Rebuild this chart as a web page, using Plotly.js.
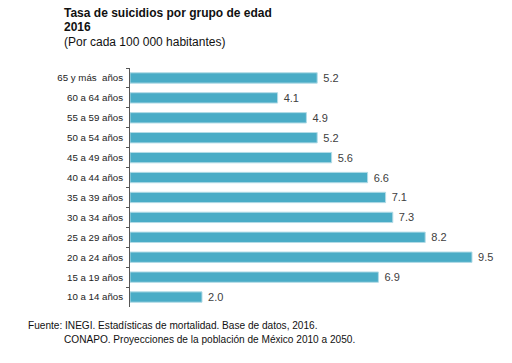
<!DOCTYPE html>
<html>
<head>
<meta charset="utf-8">
<script src="https://cdn.plot.ly/plotly-3.0.1.min.js"></script>
<style>html,body{margin:0;padding:0;background:#fff;}#chart{width:512px;height:363px;}</style>
</head>
<body>
<div id="chart"></div>
<script>
const categories = ["65 y más  años","60 a 64 años","55 a 59 años","50 a 54 años","45 a 49 años","40 a 44 años","35 a 39 años","30 a 34 años","25 a 29 años","20 a 24 años","15 a 19 años","10 a 14 años"];
const rates = [5.2, 4.1, 4.9, 5.2, 5.6, 6.6, 7.1, 7.3, 8.2, 9.5, 6.9, 2.0];

const font = "Liberation Sans, Arial, sans-serif";
const trace = {
  type: "bar",
  orientation: "h",
  y: categories,
  x: rates,
  width: 0.52,
  marker: {color: "#4aacc6", line: {color: "#b3dbe6", width: 1}},
  text: rates.map(v => " " + v.toFixed(1)),
  textposition: "outside",
  constraintext: "none",
  cliponaxis: false,
  textfont: {family: font, size: 11, color: "#404040"},
  hoverinfo: "none"
};
const layout = {
  width: 512, height: 363,
  margin: {l: 130, r: 22, t: 68, b: 56},
  paper_bgcolor: "#fff", plot_bgcolor: "#fff",
  showlegend: false,
  bargap: 0.48,
  xaxis: {range: [0, 10], showgrid: false, zeroline: false, showticklabels: false, showline: false, ticks: ""},
  yaxis: {
    type: "category", range: [11.5, -0.5], showgrid: false, zeroline: false,
    showline: true, linecolor: "#555", linewidth: 1,
    ticks: "outside", ticklen: 3, tickcolor: "#555", tickson: "boundaries",
    tickfont: {family: font, size: 9.7, color: "#222"}, ticklabelstandoff: 4
  },
  annotations: [
    {text: "<b>Tasa de suicidios por grupo de edad</b>", x: 62, y: 13},
    {text: "<b>2016</b>", x: 62, y: 27},
    {text: "(Por cada 100 000 habitantes)", x: 62, y: 42},
    {text: "Fuente: INEGI. Estadísticas de mortalidad. Base de datos, 2016.", x: 26, y: 325, size: 10.1},
    {text: "CONAPO. Proyecciones de la población de México 2010 a 2050.", x: 62, y: 339, size: 10.1}
  ].map(a => ({
    text: a.text, xref: "paper", yref: "paper",
    x: (a.x - 130) / 360, y: 1 - (a.y - 68) / 239,
    xanchor: "left", yanchor: "middle", showarrow: false,
    font: {family: font, size: a.size || 12, color: "#111"}
  }))
};
Plotly.newPlot("chart", [trace], layout, {staticPlot: true, displayModeBar: false});
</script>
</body>
</html>
